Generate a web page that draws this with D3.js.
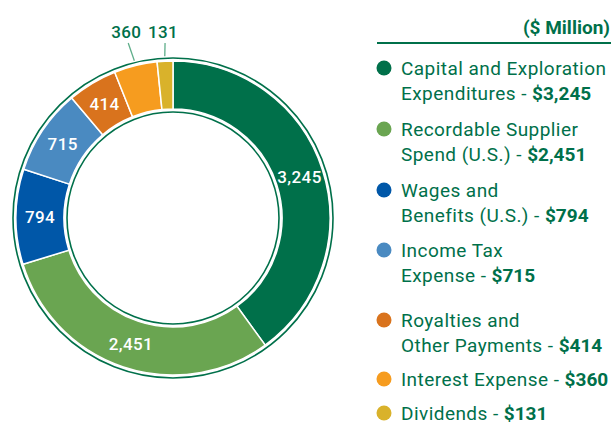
<!DOCTYPE html>
<html>
<head>
<meta charset="utf-8">
<script src="https://cdn.jsdelivr.net/npm/d3@7"></script>
<style>
  body { margin: 0; background: #fff; }
  svg { display: block; }
  text { font-family: Roboto, "Noto Sans", sans-serif; }
</style>
</head>
<body>
<svg width="615" height="425"></svg>
<script>
// data
var categories = ['Capital and Exploration Expenditures', 'Recordable Supplier Spend (U.S.)',
  'Wages and Benefits (U.S.)', 'Income Tax Expense', 'Royalties and Other Payments',
  'Interest Expense', 'Dividends'];
var legendLines = [
  ['Capital and Exploration', 'Expenditures - '],
  ['Recordable Supplier', 'Spend (U.S.) - '],
  ['Wages and', 'Benefits (U.S.) - '],
  ['Income Tax', 'Expense - '],
  ['Royalties and', 'Other Payments - '],
  ['Interest Expense - '],
  ['Dividends - ']
];
var values = [3245, 2451, 794, 715, 414, 360, 131];
var colors = ['#00704a', '#6aa551', '#0057a8', '#4a8ac1', '#d9731d', '#f69c1f', '#d9b22b'];
var unitLabel = '($ Million)';

var green = '#00704a';
var fmt = d3.format(',');

var svg = d3.select('svg');

// donut
var cx = 173, cy = 218;
var rOuter = 157, rInner = 109;
var chartG = svg.append('g')
  .attr('transform', 'translate(' + [cx, cy] + ')');

var pie = d3.pie().sort(null).value(function(d) { return d; });
var arcs = pie(values);
var arc = d3.arc().innerRadius(rInner).outerRadius(rOuter);

// thin green rings outside and inside
chartG.append('circle').attr('r', rOuter + 3)
  .attr('fill', 'none').attr('stroke', green).attr('stroke-width', 1.6);
chartG.append('circle').attr('r', rInner - 3)
  .attr('fill', 'none').attr('stroke', green).attr('stroke-width', 1.6);

chartG.selectAll('.slice')
  .data(arcs)
  .enter()
  .append('path')
  .attr('class', 'slice')
  .attr('d', arc)
  .attr('fill', function(d, i) { return colors[i]; })
  .attr('stroke', '#fff')
  .attr('stroke-width', 1.5);

// labels inside for big slices, outside for small ones
var inside = arcs.filter(function(d) { return d.value > 400; });
var outside = arcs.filter(function(d) { return d.value <= 400; });

chartG.selectAll('.inlabel')
  .data(inside)
  .enter()
  .append('text')
  .attr('class', 'inlabel')
  .attr('transform', function(d) { return 'translate(' + arc.centroid(d) + ')'; })
  .attr('text-anchor', 'middle')
  .attr('dy', '0.36em')
  .attr('fill', '#fff')
  .attr('font-size', 17)
  .attr('font-weight', 500)
  .attr('letter-spacing', 0.4)
  .text(function(d) { return fmt(d.value); });

var lineIn = d3.arc().innerRadius(162).outerRadius(162);
var labelArc = d3.arc().innerRadius(196).outerRadius(196);
var labelY = -186;

chartG.selectAll('.leader')
  .data(outside)
  .enter()
  .append('line')
  .attr('class', 'leader')
  .attr('x1', function(d) { return lineIn.centroid(d)[0]; })
  .attr('y1', function(d) { return lineIn.centroid(d)[1]; })
  .attr('x2', function(d) { return labelArc.centroid(d)[0] + 2; })
  .attr('y2', labelY + 11)
  .attr('stroke', '#5fae8a')
  .attr('stroke-width', 1.3);

chartG.selectAll('.outlabel')
  .data(outside)
  .enter()
  .append('text')
  .attr('class', 'outlabel')
  .attr('x', function(d) { return labelArc.centroid(d)[0]; })
  .attr('y', labelY)
  .attr('text-anchor', 'middle')
  .attr('dy', '0.36em')
  .attr('fill', green)
  .attr('font-size', 17)
  .attr('font-weight', 500)
  .attr('letter-spacing', 0.4)
  .text(function(d) { return fmt(d.value); });

// legend
svg.append('text')
  .attr('x', 610).attr('y', 34)
  .attr('text-anchor', 'end')
  .attr('fill', green)
  .attr('font-size', 19)
  .attr('font-weight', 700)
  .text(unitLabel);
svg.append('line')
  .attr('x1', 377).attr('x2', 611)
  .attr('y1', 43).attr('y2', 43)
  .attr('stroke', green).attr('stroke-width', 2);

var lineH = 25;
var itemGap = [11, 11, 10, 20, 9, 9, 0];
var legendG = svg.append('g');
var y = 75;
legendLines.forEach(function(lines, i) {
  var g = legendG.append('g');
  g.append('circle')
    .attr('cx', 384).attr('cy', y - 7)
    .attr('r', 7.5)
    .attr('fill', colors[i]);
  lines.forEach(function(line, j) {
    var t = g.append('text')
      .attr('x', 401).attr('y', y + j * lineH)
      .attr('fill', green)
      .attr('font-size', 19)
      .attr('letter-spacing', 0.45);
    t.append('tspan').text(line);
    if (j === lines.length - 1) {
      t.append('tspan').attr('font-weight', 700).attr('letter-spacing', 0)
        .text('$' + fmt(values[i]));
    }
  });
  y += lines.length * lineH + itemGap[i];
});
</script>
</body>
</html>
